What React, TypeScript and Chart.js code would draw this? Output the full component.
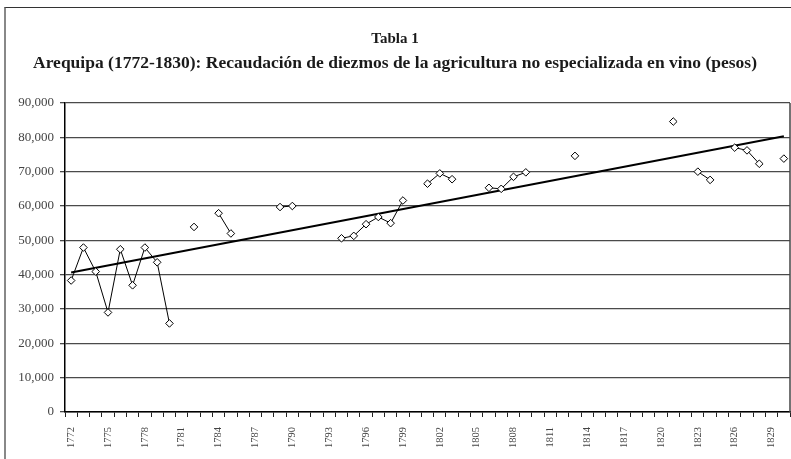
import { useEffect, useRef } from 'react';
import { Chart, registerables } from 'chart.js';

Chart.register(...registerables);

const years = [
  '1772', '1773', '1774', '1775', '1776', '1777', '1778', '1779', '1780', '1781',
  '1782', '1783', '1784', '1785', '1786', '1787', '1788', '1789', '1790', '1791',
  '1792', '1793', '1794', '1795', '1796', '1797', '1798', '1799', '1800', '1801',
  '1802', '1803', '1804', '1805', '1806', '1807', '1808', '1809', '1810', '1811',
  '1812', '1813', '1814', '1815', '1816', '1817', '1818', '1819', '1820', '1821',
  '1822', '1823', '1824', '1825', '1826', '1827', '1828', '1829', '1830',
];

const tickYears = [
  '1772', '1775', '1778', '1781', '1784', '1787', '1790', '1793', '1796', '1799',
  '1802', '1805', '1808', '1811', '1814', '1817', '1820', '1823', '1826', '1829',
];

const diezmos: (number | null)[] = [
  38300, 47900, 40900, 29000, 47400, 36900, 47900, 43600, 25800, null,
  53900, null, 57900, 52000, null, null, null, 59700, 60000, null,
  null, null, 50600, 51300, 54700, 56800, 55000, 61600, null, 66500,
  69500, 67800, null, null, 65300, 65000, 68500, 69800, null, null,
  null, 74600, null, null, null, null, null, null, null, 84600,
  null, 70000, 67600, null, 77000, 76200, 72300, null, 73800,
];

const trendStartYear = '1772';
const trendEndYear = '1830';
const trendStart = 40600;
const trendEnd = 80300;

const titleText = 'Tabla 1';
const subtitleText =
  'Arequipa (1772-1830): Recaudación de diezmos de la agricultura no especializada en vino (pesos)';

const serif = "'Liberation Serif', 'Times New Roman', serif";

export default function App() {
  const ref = useRef<HTMLCanvasElement | null>(null);

  useEffect(() => {
    document.body.style.margin = '0';
    const canvas = ref.current;
    if (!canvas) return;

    const trend = years.map((y) =>
      y === trendStartYear ? trendStart : y === trendEndYear ? trendEnd : null
    );

    const frame = {
      id: 'plotFrame',
      afterDatasetsDraw(chart: any) {
        const { ctx, chartArea } = chart;
        ctx.save();
        ctx.strokeStyle = '#444';
        ctx.lineWidth = 1.5;
        ctx.beginPath();
        ctx.moveTo(chartArea.right, chartArea.top);
        ctx.lineTo(chartArea.right, chartArea.bottom);
        ctx.stroke();
        ctx.restore();
      },
    };

    const chart = new Chart(canvas, {
      type: 'line',
      data: {
        labels: years,
        datasets: [
          {
            label: 'Diezmos',
            data: diezmos,
            borderColor: '#000',
            borderWidth: 1,
            pointStyle: 'rectRot',
            pointRadius: 3.8,
            pointBackgroundColor: '#fff',
            pointBorderColor: '#000',
            pointBorderWidth: 1,
            spanGaps: false,
            tension: 0,
          },
          {
            label: 'Tendencia',
            data: trend,
            borderColor: '#000',
            borderWidth: 2,
            pointRadius: 0,
            spanGaps: true,
            tension: 0,
          },
        ],
      },
      options: {
        responsive: false,
        animation: false,
        devicePixelRatio: 1,
        layout: { autoPadding: false, padding: { left: 0, right: 1, top: 0, bottom: 0 } },
        plugins: {
          legend: { display: false },
          tooltip: { enabled: false },
          title: {
            display: true,
            text: titleText,
            color: '#1a1a1a',
            font: { family: serif, size: 15, weight: 'bold', lineHeight: 1.2 },
            padding: { top: 30, bottom: 0 },
          },
          subtitle: {
            display: true,
            text: subtitleText,
            color: '#1a1a1a',
            font: { family: serif, size: 17.5, weight: 'bold', lineHeight: 1.2 },
            padding: { top: 5, bottom: 29 },
          },
        },
        scales: {
          x: {
            type: 'category',
            offset: true,
            grid: {
              offset: true,
              drawOnChartArea: false,
              drawTicks: true,
              tickLength: 5,
              color: '#222',
              lineWidth: 1,
            },
            border: { color: '#000', width: 1.5 },
            ticks: {
              autoSkip: false,
              maxRotation: 90,
              minRotation: 90,
              padding: 10,
              color: '#444',
              font: { family: serif, size: 10.5 },
              callback: (_v: any, i: number) =>
                tickYears.includes(years[i]) ? years[i] : '',
            },
            afterFit: (s: any) => {
              s.height = 47;
              s.paddingLeft = 0;
              s.paddingRight = 0;
            },
          },
          y: {
            min: 0,
            max: 90000,
            grid: { color: '#4a4a4a', lineWidth: 1.3, tickLength: 5 },
            border: { color: '#000', width: 1.5 },
            ticks: {
              stepSize: 10000,
              padding: 6,
              color: '#444',
              font: { family: serif, size: 13 },
              callback: (v: any) => Number(v).toLocaleString('en-US'),
            },
            afterFit: (s: any) => {
              s.width = 65;
            },
          },
        },
      },
      plugins: [frame],
    });

    return () => chart.destroy();
  }, []);

  return (
    <div style={{ position: 'relative', width: 791, height: 459, background: '#fff', overflow: 'hidden' }}>
      <canvas ref={ref} width={791} height={459} style={{ position: 'absolute', left: 0, top: 0 }} />
      <div
        style={{
          position: 'absolute',
          left: 4,
          top: 7,
          width: 800,
          height: 460,
          borderTop: '1.5px solid #333',
          borderLeft: '2px solid #888',
          pointerEvents: 'none',
        }}
      />
    </div>
  );
}
